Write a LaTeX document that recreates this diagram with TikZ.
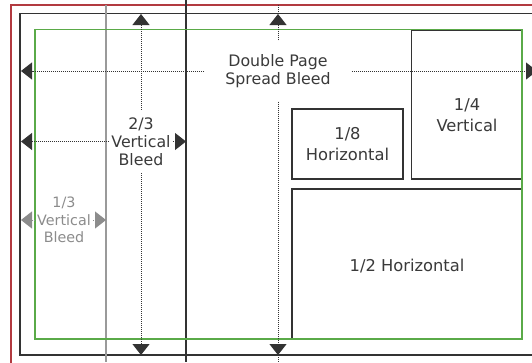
\documentclass[tikz,border=0pt]{standalone}
\usepackage{fontspec}
\setmainfont{DejaVu Sans}
\usetikzlibrary{arrows.meta}
\definecolor{redf}{HTML}{B23A40}
\definecolor{greenf}{HTML}{5AAA48}
\definecolor{darkf}{HTML}{333333}
\definecolor{txt}{HTML}{3A3A3A}
\definecolor{grayf}{HTML}{9A9A9A}
\definecolor{graytxt}{HTML}{8C8C8C}
\begin{document}
\begin{tikzpicture}[x=1pt,y=-1pt,
  redline/.style={draw=redf,line width=2pt},
  darkline/.style={draw=darkf,line width=1.4pt},
  greenline/.style={draw=greenf,line width=1.5pt},
  grayline/.style={draw=grayf,line width=1.3pt},
  boxline/.style={draw=darkf,line width=1.3pt},
  dotl/.style={draw=darkf,line width=1pt,dash pattern=on 1pt off 1pt},
  tipd/.style={-{Triangle[length=11pt,width=17pt]}},
  lbl/.style={text=txt,align=center,font=\fontsize{15.8}{17.8}\selectfont,inner xsep=2pt,inner ysep=8pt},
  boxtxt/.style={text=txt,align=center,font=\fontsize{16.3}{21.5}\selectfont,inner sep=2pt}]
\useasboundingbox (0,0) rectangle (532,362);
\clip (0,0) rectangle (532,362);
\fill[white] (0,0) rectangle (532,362);
% frames
\draw[redline] (11,5) rectangle (560,380);
\draw[darkline] (20,13.5) rectangle (560,355);
\draw[grayline] (106,5) -- (106,362);
\draw[darkline] (186,0) -- (186,362);
% ad boxes
\draw[boxline] (292,109) rectangle (403,179);
\draw[boxline] (411.5,30) rectangle (522,179);
\draw[boxline] (292,189) rectangle (522,339);
\draw[greenline] (35,29.5) rectangle (522,339);
\node[boxtxt] (q8) at (347.5,144) {1/8\\Horizontal};
\node[boxtxt] (q4) at (467,115) {1/4\\Vertical};
\node[boxtxt] (q2) at (407,266) {1/2 Horizontal};
% labels
\node[lbl,inner xsep=21pt,inner ysep=14pt] (dps) at (278,71) {Double Page\\Spread Bleed};
\node[lbl] (v23) at (141,141.5) {2/3\\Vertical\\Bleed};
\node[lbl,text=graytxt,font=\fontsize{14.3}{17.3}\selectfont] (v13) at (64,220) {1/3\\Vertical\\Bleed};
% coordinates
\coordinate (dpsL) at (21,71);
\coordinate (dpsR) at (537,71);
\coordinate (dpsT) at (278,14);
\coordinate (dpsTT) at (278,4);
\coordinate (dpsB) at (278,355);
\coordinate (dpsBB) at (278,363);
\coordinate (v23L) at (21,141.5);
\coordinate (v23R) at (186,141.5);
\coordinate (v23T) at (141,14);
\coordinate (v23B) at (141,355);
\coordinate (v13L) at (21,220);
\coordinate (v13R) at (106,220);
% connectors
\draw[dotl] (dpsT) -- (dpsTT);
\draw[dotl] (dpsB) -- (dpsBB);
\draw[dotl,tipd] (dps.west) -- (dpsL);
\draw[dotl,tipd] (dps.east) -- (dpsR);
\draw[dotl,tipd] (dps.north) -- (dpsT);
\draw[dotl,tipd] (dps.south) -- (dpsB);
\draw[dotl,tipd] (v23.west) -- (v23L);
\draw[dotl,tipd] (v23.east) -- (v23R);
\draw[dotl,tipd] (v23.north) -- (v23T);
\draw[dotl,tipd] (v23.south) -- (v23B);
\draw[dotl,draw=graytxt,tipd] (v13.west) -- (v13L);
\draw[dotl,draw=graytxt,tipd] (v13.east) -- (v13R);
\end{tikzpicture}
\end{document}
